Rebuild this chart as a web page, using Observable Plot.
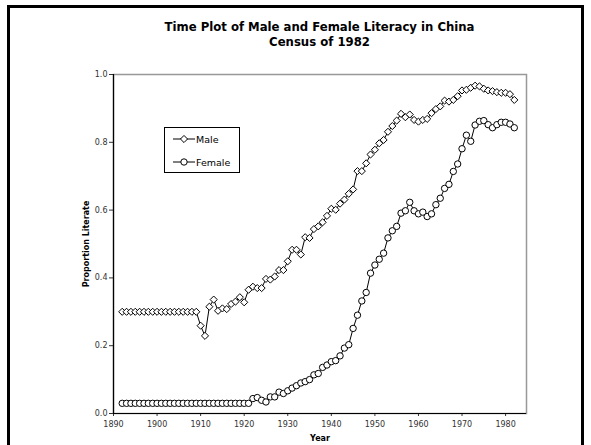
<!DOCTYPE html>
<html>
<head>
<meta charset="utf-8">
<script src="https://cdn.jsdelivr.net/npm/d3@7"></script>
<script src="https://cdn.jsdelivr.net/npm/@observablehq/plot@0.6"></script>
<style>
  html, body { margin: 0; padding: 0; background: #fff; }
  #wrap { position: relative; width: 591px; height: 445px; overflow: hidden; background: #fff; }
  #outer { position: absolute; left: 7px; top: 5px; width: 571px; height: 470px; border: 3px solid #000; pointer-events: none; }
  #title { height: 56px; box-sizing: border-box; padding-top: 20px; padding-left: 113px; width: 526px; text-align: center;
           font: bold 11.7px "DejaVu Sans", sans-serif; line-height: 15px; color: #000; white-space: nowrap; }
  #legend { position: absolute; left: 164px; top: 127px; width: 74px; height: 44px; border: 1px solid #000; background: #fff;
            font: 9.5px "DejaVu Sans", sans-serif; color: #000; }
  #legend .row { position: absolute; left: 8px; height: 12px; display: flex; align-items: center; }
  #legend svg { display: block; }
  g[aria-label="y-axis label"] text, g[aria-label="x-axis label"] text { font-weight: bold; fill: #000; }
</style>
</head>
<body>
<div id="wrap">
  <div id="title">Time Plot of Male and Female Literacy in China<br>Census of 1982</div>
  <div id="chart"></div>
  <div id="legend"></div>
  <div id="outer"></div>
</div>
<script>
// ---- data ----
const years = [1892,1893,1894,1895,1896,1897,1898,1899,1900,1901,1902,1903,1904,1905,1906,1907,1908,1909,
  1910,1911,1912,1913,1914,1915,1916,1917,1918,1919,1920,1921,1922,1923,1924,1925,1926,1927,1928,1929,
  1930,1931,1932,1933,1934,1935,1936,1937,1938,1939,1940,1941,1942,1943,1944,1945,1946,1947,1948,1949,
  1950,1951,1952,1953,1954,1955,1956,1957,1958,1959,1960,1961,1962,1963,1964,1965,1966,1967,1968,1969,
  1970,1971,1972,1973,1974,1975,1976,1977,1978,1979,1980,1981,1982];

const male = [0.30,0.30,0.30,0.30,0.30,0.30,0.30,0.30,0.30,0.30,0.30,0.30,0.30,0.30,0.30,0.30,0.30,0.30,
  0.259,0.229,0.315,0.336,0.303,0.31,0.308,0.323,0.33,0.343,
  0.328,0.365,0.374,0.37,0.37,0.397,0.395,0.404,0.423,0.423,
  0.449,0.483,0.483,0.469,0.52,0.518,0.544,0.552,0.564,0.583,
  0.604,0.601,0.619,0.631,0.648,0.661,0.715,0.715,0.738,0.764,
  0.778,0.797,0.807,0.831,0.848,0.864,0.884,0.874,0.882,0.866,
  0.861,0.866,0.869,0.886,0.898,0.906,0.923,0.92,0.925,0.936,
  0.953,0.955,0.961,0.967,0.965,0.958,0.953,0.951,0.948,0.946,
  0.946,0.942,0.925];

const female = [0.03,0.03,0.03,0.03,0.03,0.03,0.03,0.03,0.03,0.03,0.03,0.03,0.03,0.03,0.03,0.03,0.03,0.03,
  0.03,0.03,0.03,0.03,0.03,0.03,0.03,0.03,0.03,0.03,0.03,0.03,
  0.044,0.047,0.039,0.034,0.049,0.049,0.063,0.059,
  0.067,0.075,0.082,0.09,0.094,0.1,0.114,0.118,0.136,0.143,
  0.153,0.156,0.17,0.193,0.203,0.251,0.29,0.332,0.357,0.414,
  0.438,0.455,0.473,0.518,0.539,0.552,0.591,0.598,0.623,0.598,
  0.589,0.594,0.581,0.589,0.616,0.635,0.664,0.676,0.714,0.736,
  0.781,0.821,0.803,0.851,0.862,0.864,0.852,0.843,0.852,0.859,
  0.859,0.854,0.843];

const seriesNames = ["Male", "Female"];
const xTicks = [1890,1900,1910,1920,1930,1940,1950,1960,1970,1980];
const yTicks = [0.0,0.2,0.4,0.6,0.8,1.0];

const maleData = years.map((year, i) => ({year, value: male[i], series: seriesNames[0]}));
const femaleData = years.map((year, i) => ({year, value: female[i], series: seriesNames[1]}));

const chart = Plot.plot({
  width: 591,
  height: 389,
  marginLeft: 113,
  marginRight: 65,
  marginTop: 18,
  marginBottom: 32,
  style: {fontFamily: "DejaVu Sans, sans-serif", fontSize: "8px", background: "transparent", color: "#333"},
  x: {domain: [1890, 1984.8]},
  y: {domain: [0, 1]},
  marks: [
    Plot.frame({stroke: "#999", strokeWidth: 1.5}),
    Plot.axisX({ticks: xTicks, tickFormat: d => String(d), tickSize: 3, tickPadding: 5, fill: "#333",
                label: "Year", labelAnchor: "center", labelArrow: "none", labelOffset: 27}),
    Plot.axisY({ticks: yTicks, tickFormat: d3.format(".1f"), tickSize: 4, tickPadding: 2, fill: "#333",
                label: "Proportion Literate", labelAnchor: "center", labelArrow: "none", labelOffset: 30}),
    Plot.ruleX([1890], {stroke: "#000", strokeWidth: 1.2}),
    Plot.ruleY([0], {stroke: "#000", strokeWidth: 1.2}),
    Plot.line(maleData, {x: "year", y: "value", stroke: "#000", strokeWidth: 1}),
    Plot.dot(maleData, {x: "year", y: "value", symbol: "diamond2", r: 3.2, fill: "#fff", stroke: "#000", strokeWidth: 1}),
    Plot.line(femaleData, {x: "year", y: "value", stroke: "#000", strokeWidth: 1}),
    Plot.dot(femaleData, {x: "year", y: "value", symbol: "circle", r: 3.2, fill: "#fff", stroke: "#000", strokeWidth: 1})
  ]
});
document.getElementById("chart").appendChild(chart);

// legend
const legend = document.getElementById("legend");
const symbols = [d3.symbolDiamond2, d3.symbolCircle];
const rowTops = [5, 28];
seriesNames.forEach((name, i) => {
  const row = document.createElement("div");
  row.className = "row";
  row.style.top = rowTops[i] + "px";
  const svg = d3.create("svg").attr("width", 22).attr("height", 12);
  svg.append("line").attr("x1", 0).attr("x2", 22).attr("y1", 6).attr("y2", 6).attr("stroke", "#000");
  svg.append("path").attr("transform", "translate(11,6)")
    .attr("d", d3.symbol(symbols[i], 3.2 * 3.2 * Math.PI)())
    .attr("fill", "#fff").attr("stroke", "#000");
  row.appendChild(svg.node());
  const span = document.createElement("span");
  span.textContent = name;
  span.style.marginLeft = "1px";
  row.appendChild(span);
  legend.appendChild(row);
});
</script>
</body>
</html>
